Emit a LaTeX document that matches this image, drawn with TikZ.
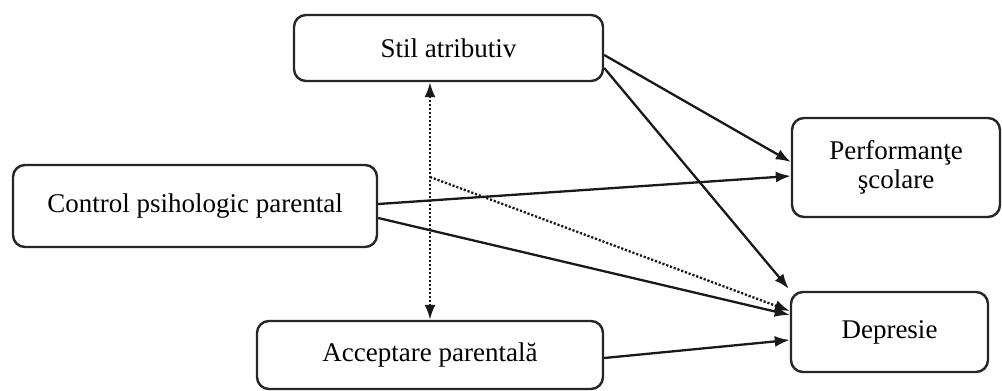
\documentclass[tikz,border=0pt]{standalone}
\usepackage{fontspec}
\setmainfont{Liberation Serif}
\usetikzlibrary{arrows.meta}
\begin{document}
\begin{tikzpicture}[x=1pt,y=-1pt,
  box/.style={draw=black!85, line width=2.4pt, rounded corners=12pt, fill=white,
    align=center, inner sep=0pt, font=\fontsize{27}{31}\selectfont},
  tip/.style={},
  arr/.style={line width=2.3pt, draw=black!90, -{Latex[length=15pt,width=11pt]}},
  dotarr/.style={line width=2.3pt, draw=black!90, dash pattern=on 2.2pt off 1.8pt,
    -{Latex[length=15pt,width=11pt]}}]
\useasboundingbox (0,0) rectangle (1002,391);
\node[box, minimum width=309pt, minimum height=66pt] (stil) at (448.5,48) {Stil atributiv};
\node[box, minimum width=364pt, minimum height=82pt] (ctrl) at (195,206) {Control psihologic parental};
\node[box, minimum width=346pt, minimum height=68pt] (acc) at (430,355) {Acceptare parental\u{a}};
\node[box, minimum width=208pt, minimum height=99pt] (perf) at (896,167.5) {Performan\c{t}e\\[-2pt]\c{s}colare};
\node[box, minimum width=197pt, minimum height=80pt] (dep) at (889.5,332) {Depresie};
\coordinate (br) at (430,177);
% solid arrows
\draw[arr] ([yshift=-7pt]stil.east) -- ([yshift=5.5pt]perf.west);
\draw[arr] ([yshift=-20pt]stil.east) -- ([xshift=-1pt,yshift=2pt]dep.north west);
\draw[arr] ([yshift=2pt]ctrl.east) -- ([yshift=-8.5pt]perf.west);
\draw[arr] ([yshift=-12pt]ctrl.east) -- ([yshift=17pt]dep.west);
\draw[arr] ([yshift=-3pt]acc.east) -- ([yshift=-8pt]dep.west);
% dotted arrows
\draw[dotarr, {Latex[length=15pt,width=11pt]}-{Latex[length=15pt,width=11pt]}] ([xshift=-18.5pt]stil.south) -- (acc.north);
\draw[dotarr] (br) -- ([yshift=21pt]dep.west);
\end{tikzpicture}
\end{document}
